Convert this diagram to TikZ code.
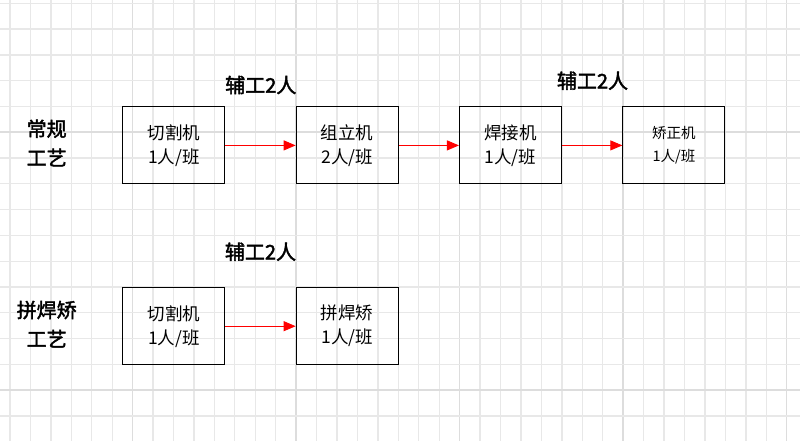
\documentclass[tikz,border=0pt]{standalone}
\usepackage{fontspec}
\newfontfamily\cjk{Noto Sans CJK SC}
\newfontfamily\cjkb{Noto Sans CJK SC}[FakeBold=2]
\usepackage{xcolor}
\usetikzlibrary{arrows.meta,positioning}
\definecolor{gridlight}{HTML}{E8E8E8}
\definecolor{griddark}{HTML}{DDDDDD}

\begin{document}
\begin{tikzpicture}[x=1pt,y=-1pt,
  machine/.style={draw=black,line width=1.1pt,minimum width=102pt,minimum height=77pt,align=center,font=\cjk\fontsize{17.5}{24}\selectfont,inner sep=0pt},
  helper/.style={font=\cjkb\fontsize{20}{24}\selectfont},
  process/.style={align=center,font=\cjkb\fontsize{20}{29}\selectfont},
  flow/.style={red,line width=0.9pt,-{Triangle[length=12pt,width=10pt]}}]
\useasboundingbox (0,0) rectangle (800,441);
\fill[white] (0,0) rectangle (800,441);
% grid
\foreach \k in {0,...,38}{\draw[gridlight,line width=1.3pt] ({10+20.44*\k},0) -- ({10+20.44*\k},441);}
\foreach \k in {6,14,22,30,38}{\draw[griddark,line width=1.5pt] ({10+20.44*\k},0) -- ({10+20.44*\k},441);}
\foreach \k in {0,...,16}{\draw[gridlight,line width=1.3pt] (0,{3.3+25.79*\k}) -- (800,{3.3+25.79*\k});}
\foreach \k in {5,15}{\draw[griddark,line width=1.5pt] (0,{3.3+25.79*\k}) -- (800,{3.3+25.79*\k});}
% conventional process
\node[process] (conv) at (46.7,143) {常规\\工艺};
\node[machine] (cut1) at (173.9,145.4) {切割机\\1人/班};
\node[machine] (assemble) at (347.2,145.4) {组立机\\2人/班};
\node[machine] (weld) at (510.5,145.4) {焊接机\\1人/班};
\node[machine,font=\cjk\fontsize{14.5}{23}\selectfont] (straighten) at (673.9,145.4) {矫正机\\1人/班};
\node[helper] (aux1) at (260.8,85) {辅工2人};
\node[helper] (aux2) at (592.5,80.7) {辅工2人};
\draw[flow] (cut1) -- (assemble);
\draw[flow] (assemble) -- (weld);
\draw[flow] (weld) -- (straighten);
% tailor-weld-straighten process
\node[process] (tws) at (46.7,324.2) {拼焊矫\\工艺};
\node[machine] (cut2) at (173.9,326.2) {切割机\\1人/班};
\node[machine] (tailor) at (347.2,326.2) {拼焊矫\\1人/班};
\node[helper] (aux3) at (260.5,251.7) {辅工2人};
\draw[flow] (cut2) -- (tailor);
\end{tikzpicture}
\end{document}
